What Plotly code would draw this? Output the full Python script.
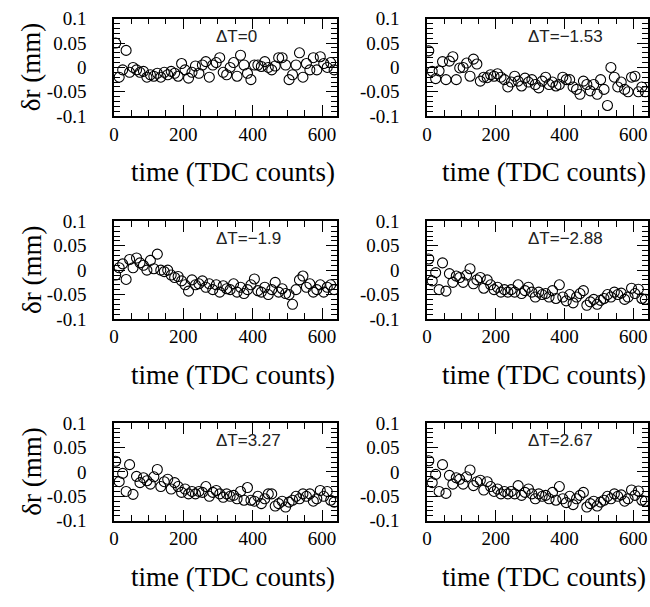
import plotly.graph_objects as go

# time bin centres (TDC counts)
TIME = list(range(5, 640, 10))

DT_LABELS = ["\u0394T=0", "\u0394T=\u22121.53", "\u0394T=\u22121.9",
             "\u0394T=\u22122.88", "\u0394T=3.27", "\u0394T=2.67"]

DR_DT0 = [0.050, -0.020, -0.005, 0.035, -0.010, 0.000, -0.005, -0.010,
          -0.008, -0.020, -0.015, -0.018, -0.012, -0.020, -0.010, -0.015,
          -0.008, -0.012, -0.018, 0.008, -0.005, -0.022, -0.010, 0.003,
          -0.012, 0.005, 0.012, -0.020, 0.005, 0.010, 0.020, -0.010,
          -0.015, 0.000, 0.010, -0.018, 0.025, 0.005, -0.012, -0.025,
          0.005, 0.005, 0.002, 0.012, 0.000, -0.005, 0.003, 0.020,
          0.020, 0.005, -0.025, -0.015, 0.005, 0.030, -0.020, 0.008,
          -0.005, 0.020, -0.005, 0.022, 0.008, 0.000, 0.010, -0.005]

DR_DTM153 = [0.034, -0.008, -0.023, -0.007, 0.012, -0.025, 0.013, 0.022,
             -0.025, -0.001, 0.000, 0.009, -0.018, 0.017, 0.007, -0.028,
             -0.020, -0.021, -0.015, -0.018, -0.013, -0.020, -0.025, -0.040,
             -0.030, -0.018, -0.028, -0.038, -0.022, -0.030, -0.025, -0.035,
             -0.042, -0.028, -0.020, -0.035, -0.030, -0.038, -0.035, -0.020,
             -0.025, -0.025, -0.040, -0.045, -0.055, -0.028, -0.035, -0.048,
             -0.035, -0.055, -0.025, -0.045, -0.078, 0.000, -0.020, -0.040,
             -0.030, -0.045, -0.050, -0.020, -0.018, -0.050, -0.040, -0.050]

DR_DTM19 = [-0.010, 0.005, 0.013, -0.019, 0.022, 0.005, 0.025, 0.015,
            0.010, 0.000, 0.020, 0.003, 0.033, 0.000, -0.003, 0.000,
            -0.010, -0.015, -0.013, -0.022, -0.030, -0.043, -0.020, -0.030,
            -0.028, -0.022, -0.035, -0.028, -0.040, -0.030, -0.045, -0.032,
            -0.038, -0.040, -0.028, -0.045, -0.035, -0.048, -0.040, -0.030,
            -0.018, -0.042, -0.045, -0.035, -0.050, -0.040, -0.025, -0.045,
            -0.038, -0.048, -0.050, -0.070, -0.040, -0.020, -0.012, -0.035,
            -0.028, -0.045, -0.040, -0.030, -0.045, -0.035, -0.030, -0.040]

DR_DTM288 = [0.023, -0.022, -0.005, -0.040, 0.015, -0.043, -0.007, -0.025,
             -0.012, -0.015, -0.025, -0.010, 0.003, -0.028, -0.020, -0.015,
             -0.037, -0.020, -0.030, -0.040, -0.035, -0.045, -0.040, -0.045,
             -0.040, -0.045, -0.030, -0.048, -0.042, -0.035, -0.045, -0.055,
             -0.045, -0.050, -0.048, -0.055, -0.042, -0.058, -0.030, -0.055,
             -0.063, -0.050, -0.067, -0.055, -0.048, -0.042, -0.072, -0.065,
             -0.060, -0.070, -0.062, -0.058, -0.050, -0.055, -0.045, -0.050,
             -0.047, -0.060, -0.055, -0.037, -0.048, -0.039, -0.058, -0.060]

DR_DT327 = [0.022, -0.020, -0.003, -0.040, 0.015, -0.046, -0.009, -0.022,
            -0.012, -0.018, -0.025, -0.010, 0.005, -0.030, -0.020, -0.015,
            -0.035, -0.022, -0.030, -0.042, -0.035, -0.045, -0.040, -0.045,
            -0.040, -0.042, -0.030, -0.050, -0.042, -0.038, -0.045, -0.052,
            -0.045, -0.050, -0.048, -0.055, -0.040, -0.058, -0.032, -0.058,
            -0.060, -0.050, -0.065, -0.055, -0.045, -0.045, -0.070, -0.065,
            -0.060, -0.072, -0.062, -0.058, -0.050, -0.055, -0.045, -0.050,
            -0.045, -0.060, -0.055, -0.038, -0.050, -0.040, -0.058, -0.062]

DR_DT267 = [0.023, -0.022, -0.005, -0.040, 0.015, -0.044, -0.007, -0.025,
            -0.012, -0.015, -0.025, -0.010, 0.004, -0.028, -0.020, -0.017,
            -0.037, -0.020, -0.030, -0.040, -0.035, -0.045, -0.040, -0.045,
            -0.040, -0.045, -0.028, -0.048, -0.042, -0.035, -0.045, -0.055,
            -0.045, -0.050, -0.048, -0.055, -0.042, -0.058, -0.030, -0.055,
            -0.063, -0.050, -0.067, -0.055, -0.048, -0.042, -0.072, -0.065,
            -0.060, -0.070, -0.062, -0.058, -0.050, -0.055, -0.045, -0.050,
            -0.047, -0.060, -0.055, -0.037, -0.048, -0.039, -0.058, -0.060]

SERIES = [DR_DT0, DR_DTM153, DR_DTM19, DR_DTM288, DR_DT327, DR_DT267]

Y_TICKS = [-0.1, -0.05, 0, 0.05, 0.1]
Y_TICKTEXT = ["-0.1", "-0.05", "0", "0.05", "0.1"]
X_TICKS = [0, 200, 400, 600]
X_TICKTEXT = ["0", "200", "400", "600"]

W, H = 650, 607
COLS = [(110, 335), (426, 649)]
ROWS = [(9, 110), (219, 320), (428, 529)]

SERIF = "Liberation Serif"
SANS = "Liberation Sans"

fig = go.Figure()
layout = dict(width=W, height=H, margin=dict(l=0, r=0, t=0, b=0),
              paper_bgcolor="white", plot_bgcolor="white", showlegend=False)
annotations = []

for i, vals in enumerate(SERIES):
    r, c = divmod(i, 2)
    n = i + 1
    xa = "xaxis" if n == 1 else f"xaxis{n}"
    ya = "yaxis" if n == 1 else f"yaxis{n}"
    xr = "x" if n == 1 else f"x{n}"
    yr = "y" if n == 1 else f"y{n}"
    x0, x1 = COLS[c]
    t, b = ROWS[r]
    n_pts = min(len(TIME), len(vals))
    fig.add_trace(go.Scatter(
        x=TIME[:n_pts], y=vals[:n_pts], mode="markers", xaxis=xr, yaxis=yr,
        marker=dict(symbol="circle-open", size=10, color="black",
                    line=dict(width=1.1, color="black")),
        cliponaxis=True))
    common = dict(showline=True, linecolor="black", linewidth=1.5, mirror="allticks",
                  ticks="inside", tickcolor="black", tickwidth=1, ticklen=11,
                  showgrid=False, zeroline=False,
                  tickfont=dict(family=SERIF, size=19, color="black"))
    layout[xa] = dict(common, domain=[x0 / W, x1 / W], range=[0, 643], anchor=yr,
                      tickvals=X_TICKS, ticktext=X_TICKTEXT, ticklabelstandoff=0,
                      minor=dict(ticks="inside", ticklen=6, dtick=50, tickcolor="black",
                                 tickwidth=1, showgrid=False))
    layout[ya] = dict(common, domain=[1 - b / H, 1 - t / H], range=[-0.1, 0.1], anchor=xr,
                      tickvals=Y_TICKS, ticktext=Y_TICKTEXT, ticklabelstandoff=22,
                      minor=dict(ticks="inside", ticklen=6, dtick=0.01, tickcolor="black",
                                 tickwidth=1, showgrid=False))
    annotations.append(dict(text=DT_LABELS[i], xref=f"{xr} domain", yref=f"{yr} domain",
                            x=0.45, y=0.82, xanchor="left", yanchor="middle",
                            showarrow=False, font=dict(family=SANS, size=17, color="#222")))
    annotations.append(dict(text="time (TDC counts)", xref=f"{xr} domain", yref="paper",
                            x=1.0, y=1 - (b + 58) / H, xanchor="right", yanchor="middle",
                            showarrow=False, font=dict(family=SERIF, size=27, color="black")))
    if c == 0:
        annotations.append(dict(text="\u03b4r (mm)", xref="paper", yref=f"{yr} domain",
                                x=27 / W, y=0.5, xanchor="center", yanchor="middle",
                                textangle=-90, showarrow=False,
                                font=dict(family=SERIF, size=27, color="black")))

layout["annotations"] = annotations
fig.update_layout(**layout)
fig.write_html("out.html")
